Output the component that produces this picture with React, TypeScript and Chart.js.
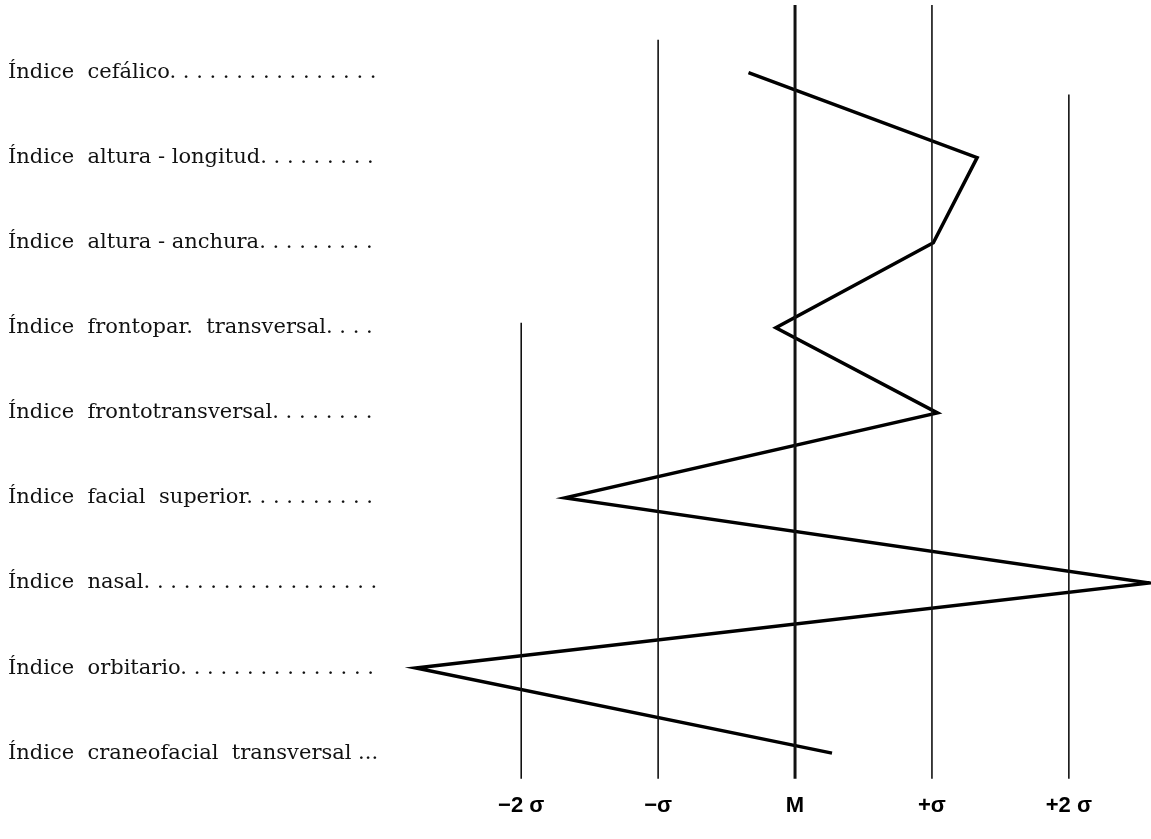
import React, { useEffect, useRef } from "react";
import { Chart, registerables } from "chart.js";

Chart.register(...registerables);

// Row names (top to bottom)
const indices = [
  "Índice  cefálico",
  "Índice  altura - longitud",
  "Índice  altura - anchura",
  "Índice  frontopar.  transversal",
  "Índice  frontotransversal",
  "Índice  facial  superior",
  "Índice  nasal",
  "Índice  orbitario",
  "Índice  craneofacial  transversal",
];
// Number of leader dots after each name
const leaderDots = [16, 9, 9, 4, 8, 10, 18, 15, 3];

// Deviation of each index from the mean, in sigma units
const deviations = [-0.34, 1.33, 1.01, -0.14, 1.04, -1.68, 2.59, -2.77, 0.27];

// Reference lines (sigma positions), their labels and where each starts (row units)
const sigmaSteps = [-2, -1, 0, 1, 2];
const sigmaLabels = ["−2 σ", "−σ", "M", "+σ", "+2 σ"];
const lineTops = [2.94, -0.385, -0.794, -0.794, 0.257];
const lineBottom = 8.3;

const X_MIN = -2.9;
const X_MAX = 2.6;
const Y_MIN = -0.794;
const Y_MAX = 8.37;

const rowLabels = indices.map((name, i) =>
  i === indices.length - 1
    ? name + " " + ".".repeat(leaderDots[i])
    : name + ". ".repeat(leaderDots[i]).trimEnd()
);

export default function App() {
  const canvasRef = useRef<HTMLCanvasElement | null>(null);

  useEffect(() => {
    if (!canvasRef.current) return;

    const refDatasets = sigmaSteps.map((s, i) => ({
      label: sigmaLabels[i],
      data: [
        { x: s, y: lineTops[i] },
        { x: s, y: lineBottom },
      ],
      borderColor: "#111",
      borderWidth: s === 0 ? 3 : 1.6,
      pointRadius: 0,
      fill: false,
      tension: 0,
    }));

    const profile = {
      label: "perfil",
      data: deviations.map((d, i) => ({ x: d, y: i })),
      borderColor: "#000",
      borderWidth: 3.5,
      pointRadius: 0,
      fill: false,
      tension: 0,
      borderJoinStyle: "miter" as const,
      clip: false as const,
    };

    const chart = new Chart(canvasRef.current, {
      type: "line",
      data: { datasets: [...refDatasets, profile] as any },
      options: {
        animation: false,
        responsive: true,
        maintainAspectRatio: false,
        layout: { padding: { left: 8, top: 5, right: 0, bottom: 12 } },
        plugins: {
          legend: { display: false },
          tooltip: { enabled: false },
        },
        scales: {
          x: {
            type: "linear",
            min: X_MIN,
            max: X_MAX,
            grid: { display: false, drawTicks: false },
            border: { display: false },
            afterBuildTicks: (scale: any) => {
              scale.ticks = sigmaSteps.map((v) => ({ value: v }));
            },
            afterFit: (scale: any) => {
              scale.paddingLeft = 0;
              scale.paddingRight = 0;
            },
            ticks: {
              autoSkip: false,
              maxRotation: 0,
              padding: 8,
              color: "#000",
              font: { family: "'Liberation Sans', Arial, sans-serif", size: 22, weight: "bold" },
              callback: (value: any) => {
                const k = sigmaSteps.indexOf(Number(value));
                return k >= 0 ? sigmaLabels[k] : "";
              },
            },
          },
          y: {
            type: "linear",
            reverse: true,
            min: Y_MIN,
            max: Y_MAX,
            grid: { display: false, drawTicks: false },
            border: { display: false },
            afterBuildTicks: (scale: any) => {
              scale.ticks = indices.map((_, i) => ({ value: i }));
            },
            afterFit: (scale: any) => {
              scale.width = 390;
              scale.paddingTop = 0;
              scale.paddingBottom = 0;
            },
            ticks: {
              autoSkip: false,
              crossAlign: "far",
              padding: 0,
              color: "#111",
              font: { family: "'DejaVu Serif', serif", size: 21 },
              callback: (value: any) => {
                const v = Number(value);
                return Number.isInteger(v) && v >= 0 && v < rowLabels.length ? rowLabels[v] : "";
              },
            },
          },
        },
      },
    });

    return () => chart.destroy();
  }, []);

  return (
    <div style={{ position: "absolute", left: 0, top: 0, width: 1151, height: 839, background: "#fff" }}>
      <canvas ref={canvasRef} />
    </div>
  );
}
